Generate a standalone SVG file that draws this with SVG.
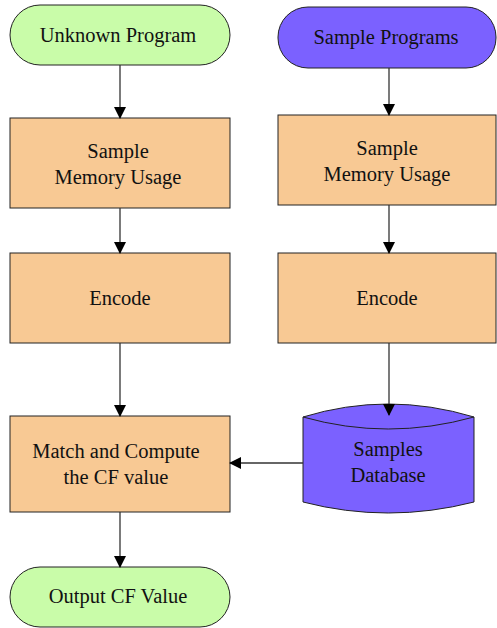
<svg xmlns="http://www.w3.org/2000/svg" width="497" height="628" viewBox="0 0 497 628">
  <style>
    .term-g { fill: #c9fca9; stroke: #222; stroke-width: 1; }
    .term-p { fill: #7b61ff; stroke: #222; stroke-width: 1; }
    .proc { fill: #f8c994; stroke: #222; stroke-width: 1; }
    .lbl { font-family: "Liberation Serif", "Times New Roman", serif; font-size: 20.5px; fill: #111; text-anchor: middle; }
    .edge { stroke: #333; stroke-width: 1.3; fill: none; marker-end: url(#arrow); }
  </style>
  <defs>
    <marker id="arrow" markerWidth="12" markerHeight="12" refX="11" refY="6" orient="auto" markerUnits="userSpaceOnUse">
      <path d="M0,0 L12,6 L0,12 Z" fill="#000"/>
    </marker>
  </defs>
  <rect width="497" height="628" fill="#fff"/>

  <g id="unknown-program">
    <rect class="term-g" x="10" y="5" width="220" height="60" rx="30" ry="30"/>
    <text class="lbl" x="118" y="42">Unknown Program</text>
  </g>
  <g id="sample-programs">
    <rect class="term-p" x="278" y="7" width="218" height="61" rx="30" ry="30"/>
    <text class="lbl" x="386" y="44">Sample Programs</text>
  </g>
  <g id="sample-memory-left">
    <rect class="proc" x="10" y="118" width="220" height="90"/>
    <text class="lbl" x="118" y="158">Sample</text>
    <text class="lbl" x="118" y="184">Memory Usage</text>
  </g>
  <g id="sample-memory-right">
    <rect class="proc" x="278" y="115" width="218" height="90"/>
    <text class="lbl" x="387" y="155">Sample</text>
    <text class="lbl" x="387" y="181">Memory Usage</text>
  </g>
  <g id="encode-left">
    <rect class="proc" x="10" y="253" width="220" height="90"/>
    <text class="lbl" x="120" y="305">Encode</text>
  </g>
  <g id="encode-right">
    <rect class="proc" x="278" y="253" width="218" height="90"/>
    <text class="lbl" x="387" y="305">Encode</text>
  </g>
  <g id="samples-database">
    <path class="term-p" d="M303,417 Q388,391 474,417 L474,502 Q388,524 303,502 Z"/>
    <path d="M303,417 Q388,441 474,417" fill="none" stroke="#222" stroke-width="1"/>
    <text class="lbl" x="388" y="456">Samples</text>
    <text class="lbl" x="388" y="482">Database</text>
  </g>
  <g id="match-compute">
    <rect class="proc" x="10" y="416" width="220" height="96"/>
    <text class="lbl" x="116" y="458">Match and Compute</text>
    <text class="lbl" x="116" y="484">the CF value</text>
  </g>
  <g id="output-cf">
    <rect class="term-g" x="10" y="567" width="220" height="60" rx="30" ry="30"/>
    <text class="lbl" x="118" y="603">Output CF Value</text>
  </g>

  <g id="connectors">
    <line class="edge" x1="120" y1="65" x2="120" y2="118"/>
    <line class="edge" x1="120" y1="208" x2="120" y2="253"/>
    <line class="edge" x1="120" y1="343" x2="120" y2="416"/>
    <line class="edge" x1="120" y1="512" x2="120" y2="567"/>
    <line class="edge" x1="389" y1="68" x2="389" y2="115"/>
    <line class="edge" x1="389" y1="205" x2="389" y2="253"/>
    <line class="edge" x1="389" y1="343" x2="389" y2="415"/>
    <line class="edge" x1="303" y1="463" x2="230" y2="463"/>
  </g>
</svg>
